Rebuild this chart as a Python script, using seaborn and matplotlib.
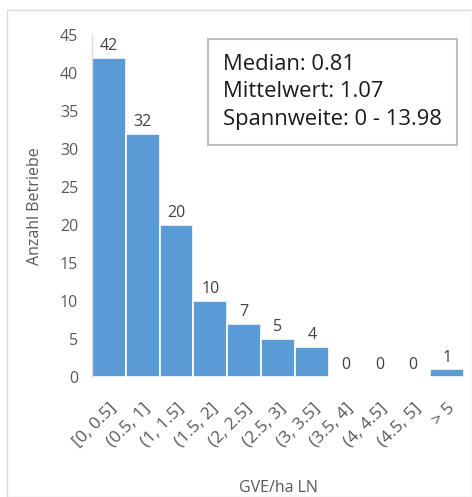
import matplotlib
matplotlib.use("Agg")
import matplotlib.pyplot as plt
import seaborn as sns
import pandas as pd
from matplotlib.patches import Rectangle

categories = ["[0, 0.5]", "(0.5, 1]", "(1, 1.5]", "(1.5, 2]", "(2, 2.5]", "(2.5, 3]",
              "(3, 3.5]", "(3.5, 4]", "(4, 4.5]", "(4.5, 5]", "> 5"]
counts = [42, 32, 20, 10, 7, 5, 4, 0, 0, 0, 1]
yticks = [0, 5, 10, 15, 20, 25, 30, 35, 40, 45]
stats_text = "Median: 0.81\nMittelwert: 1.07\nSpannweite: 0 - 13.98"

sns.set_theme(style="white")
plt.rcParams['font.family'] = ['Open Sans', 'DejaVu Sans']

df = pd.DataFrame({"cat": categories, "n": counts})
fig = plt.figure(figsize=(4.72, 4.97), dpi=100)
ax = fig.add_axes([0.195, 0.2414, 0.788, 0.6886])
sns.barplot(data=df, x="cat", y="n", ax=ax, color="#5B9BD5", saturation=1,
            width=1.0, edgecolor="white", linewidth=1.2)
ax.set_ylim(0, 45)
ax.set_xlim(-0.5, len(categories) - 0.5)
ax.set_yticks(yticks)
ax.tick_params(axis="y", labelsize=11.5, colors="#595959", length=0, pad=10)
ax.tick_params(axis="x", labelsize=12.5, colors="#595959", length=0, pad=17)
plt.setp(ax.get_xticklabels(), rotation=45, ha="right", rotation_mode="anchor")
for s in ["top", "right", "bottom"]:
    ax.spines[s].set_visible(False)
ax.spines["left"].set_color("#D9D9D9")
ax.spines["left"].set_linewidth(1)

for i, v in enumerate(counts):
    ax.text(i, v + 0.5, str(v), ha="center", va="bottom", fontsize=11.5, color="#404040")

ax.set_xlabel("GVE/ha LN", fontsize=11.5, color="#595959", labelpad=21)
ax.set_ylabel("Anzahl Betriebe", fontsize=11.5, color="#595959", labelpad=12)

ax.text(0.352, 0.945, stats_text, transform=ax.transAxes, ha="left", va="top",
        fontsize=15.8, color="#1a1a1a", linespacing=1.42,
        bbox=dict(boxstyle="square,pad=0.68", facecolor="white", edgecolor="#BFBFBF", linewidth=1.5))

fig.patches.append(Rectangle((7/472, 0), 1 - 7/472, 1 - 10/497, transform=fig.transFigure,
                             fill=False, edgecolor="#D9D9D9", linewidth=1))

fig.savefig("out.png", dpi=100)
